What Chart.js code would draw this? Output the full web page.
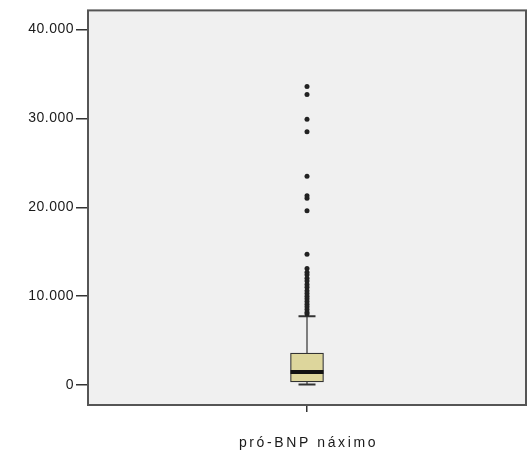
<!DOCTYPE html>
<html>
<head>
<meta charset="utf-8">
<script src="https://cdn.jsdelivr.net/npm/chart.js@4/dist/chart.umd.min.js"></script>
<style>
    body { margin: 0; background: #fff; }
    #wrap { width: 530px; height: 457px; }
</style>
</head>
<body>
<div id="wrap"><canvas id="boxChart"></canvas></div>
<script>
// Box summary for the one variable
const categories = ['pró-BNP náximo'];
const boxQ1 = [340];
const boxMedian = [1450];
const boxQ3 = [3600];
const whiskerLow = [50];
const whiskerHigh = [7750];
const outliers = [33600, 32700, 29900, 28500, 23500, 21300, 21000, 19600, 14700,
    13100, 12700, 12400, 12000, 11700, 11300, 11000, 10600, 10300, 10000, 9700,
    9400, 9100, 8800, 8500, 8200, 8000];
const yTicks = [0, 10000, 20000, 30000, 40000];

function thousands(v) {
    return String(v).replace(/\B(?=(\d{3})+(?!\d))/g, '.');
}

// Panel background, frame, whiskers, median and the axis label
const boxPlugin = {
    id: 'boxPlugin',
    beforeDraw(chart) {
        const { ctx, chartArea: a } = chart;
        ctx.letterSpacing = '0.5px';
        ctx.save();
        ctx.fillStyle = '#f0f0f0';
        ctx.fillRect(a.left, a.top, a.right - a.left, a.bottom - a.top);
        ctx.restore();
    },
    beforeDatasetsDraw(chart) {
        const { ctx } = chart;
        const x = chart.scales.x;
        const y = chart.scales.y;
        ctx.save();
        ctx.strokeStyle = '#333';
        categories.forEach((c, i) => {
            const cx = x.getPixelForValue(i);
            const cap = 8.5;
            ctx.lineWidth = 1.2;
            ctx.beginPath();
            ctx.moveTo(cx, y.getPixelForValue(boxQ3[i]));
            ctx.lineTo(cx, y.getPixelForValue(whiskerHigh[i]));
            ctx.moveTo(cx, y.getPixelForValue(boxQ1[i]));
            ctx.lineTo(cx, y.getPixelForValue(whiskerLow[i]));
            ctx.stroke();
            ctx.lineWidth = 2;
            ctx.beginPath();
            ctx.moveTo(cx - cap, y.getPixelForValue(whiskerHigh[i]));
            ctx.lineTo(cx + cap, y.getPixelForValue(whiskerHigh[i]));
            ctx.moveTo(cx - cap, y.getPixelForValue(whiskerLow[i]));
            ctx.lineTo(cx + cap, y.getPixelForValue(whiskerLow[i]));
            ctx.stroke();
        });
        ctx.restore();
    },
    afterDatasetsDraw(chart) {
        const { ctx } = chart;
        const x = chart.scales.x;
        const y = chart.scales.y;
        const bar = chart.getDatasetMeta(0).data;
        ctx.save();
        ctx.strokeStyle = '#111';
        ctx.lineWidth = 4;
        categories.forEach((c, i) => {
            const cx = x.getPixelForValue(i);
            const half = bar[i].width / 2;
            const my = y.getPixelForValue(boxMedian[i]);
            ctx.beginPath();
            ctx.moveTo(cx - half, my);
            ctx.lineTo(cx + half, my);
            ctx.stroke();
        });
        ctx.restore();
    },
    afterDraw(chart) {
        const { ctx, chartArea: a } = chart;
        const x = chart.scales.x;
        ctx.save();
        ctx.strokeStyle = '#555';
        ctx.lineWidth = 2;
        ctx.strokeRect(a.left, a.top, a.right - a.left, a.bottom - a.top);
        ctx.fillStyle = '#1a1a1a';
        ctx.font = '14px "Liberation Sans", Arial, sans-serif';
        ctx.letterSpacing = '2.6px';
        ctx.textAlign = 'center';
        ctx.textBaseline = 'middle';
        categories.forEach((c, i) => {
            ctx.fillText(c, x.getPixelForValue(i) + 1.5, 443);
        });
        ctx.restore();
    }
};

new Chart(document.getElementById('boxChart').getContext('2d'), {
    type: 'bar',
    data: {
        labels: categories,
        datasets: [{
            data: boxQ1.map((q, i) => [q, boxQ3[i]]),
            backgroundColor: '#ddd69c',
            borderColor: '#333',
            borderWidth: 1.2,
            borderSkipped: false,
            barThickness: 33
        }, {
            type: 'line',
            data: outliers.map(v => ({ x: categories[0], y: v })),
            showLine: false,
            pointRadius: 2.5,
            pointBorderWidth: 0,
            pointBackgroundColor: '#222'
        }]
    },
    options: {
        responsive: true,
        maintainAspectRatio: false,
        animation: false,
        layout: {
            padding: { top: 10, right: 4, left: 0, bottom: 0 }
        },
        plugins: {
            legend: { display: false },
            tooltip: { enabled: false }
        },
        scales: {
            x: {
                offset: true,
                border: { display: false },
                grid: {
                    offset: false,
                    drawOnChartArea: false,
                    tickLength: 7,
                    color: '#333',
                    lineWidth: 1.5
                },
                ticks: { display: false },
                afterFit(scale) { scale.height = 52; }
            },
            y: {
                min: -2250,
                max: 42150,
                border: { display: false },
                grid: {
                    drawOnChartArea: false,
                    tickLength: 12,
                    color: '#333',
                    lineWidth: 1.5
                },
                ticks: {
                    padding: 2,
                    color: '#1a1a1a',
                    font: { family: '"Liberation Sans", Arial, sans-serif', size: 14 },
                    callback: value => thousands(value)
                },
                afterBuildTicks(scale) {
                    scale.ticks = yTicks.map(value => ({ value }));
                },
                afterFit(scale) { scale.width = 88; }
            }
        }
    },
    plugins: [boxPlugin]
});
</script>
</body>
</html>
